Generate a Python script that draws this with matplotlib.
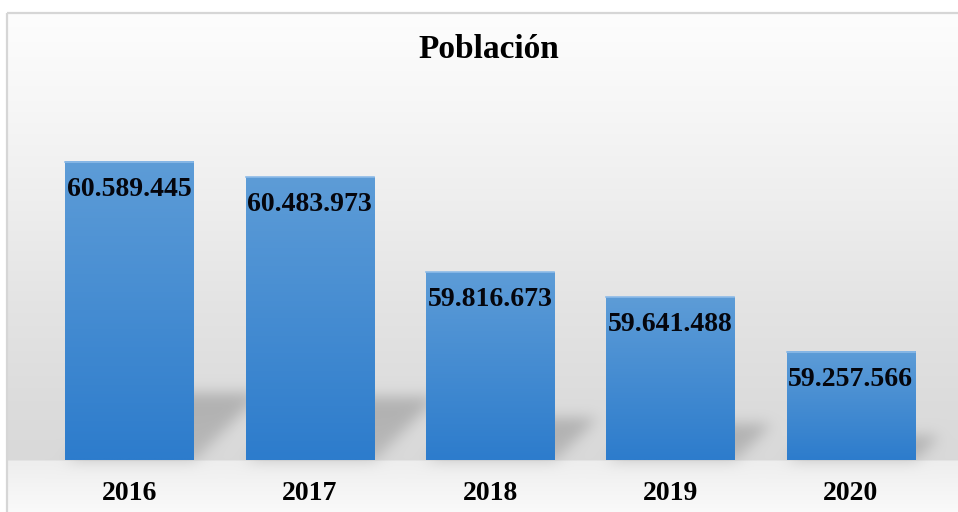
import numpy as np
import matplotlib
matplotlib.use("Agg")
import matplotlib.pyplot as plt
from matplotlib.patches import Rectangle

years = ["2016", "2017", "2018", "2019", "2020"]
poblacion = [60589445, 60483973, 59816673, 59641488, 59257566]
titulo = "Población"

W, H = 958, 512
SERIF = ["Liberation Serif", "DejaVu Serif"]


def blur(img, sigma):
    # gaussian blur with rolls, no scipy needed
    r = int(3 * sigma)
    k = np.exp(-0.5 * (np.arange(-r, r + 1) / sigma) ** 2)
    k /= k.sum()
    out = np.zeros_like(img)
    for i, w in zip(range(-r, r + 1), k):
        out += w * np.roll(img, i, axis=0)
    img = out
    out = np.zeros_like(img)
    for i, w in zip(range(-r, r + 1), k):
        out += w * np.roll(img, i, axis=1)
    return out


if __name__ == "__main__":
    fig = plt.figure(figsize=(W / 100, H / 100), dpi=100)
    fig.patch.set_facecolor("white")

    ax_bg = fig.add_axes([0, 0, 1, 1], zorder=0)
    ax_bg.set_axis_off()

    ax = fig.add_axes([39 / W, 52 / H, 902 / W, 356.6 / H], zorder=1)
    ax.patch.set_alpha(0)
    x = np.arange(len(years))
    bars = ax.bar(x, np.array(poblacion) - 58.5e6, bottom=58.5e6, width=0.71,
                  color="none", edgecolor="none")
    ax.set_xlim(-0.5, len(years) - 0.5)
    ax.set_ylim(58.5e6, 61.0e6)

    # background: gradient inside the chart frame + perspective shadows
    yy, xx = np.mgrid[0:H, 0:W].astype(float)
    base_px = H - ax.transData.transform((0, 58.5e6))[1]
    bg = np.interp(yy, [12, 100, 200, 300, 400, base_px - 1, base_px + 1, H],
                   [253, 247, 238, 228, 220, 217, 238, 250])
    mask = np.zeros((H, W))
    for b in bars:
        (x0, y0), (x1, y1) = ax.transData.transform(
            [(b.get_x(), b.get_y()), (b.get_x() + b.get_width(), b.get_y() + b.get_height())])
        yb, yt = H - y0, H - y1
        k = 0.225 * (yb - yt)
        s = yb - yy
        inside = (s >= 0) & (s <= k) & (xx - s >= x0) & (xx - s <= x1)
        # a bit darker towards the far edge of the shadow
        mask[inside] = 0.75 + 0.25 * (s[inside] / k)
    mask = blur(mask, 7)
    bg = bg * (1 - 0.2 * mask)
    bg[:12, :] = 255
    bg[:, :6] = 255
    rgb = np.dstack([bg, bg, bg]) / 255.0
    ax_bg.imshow(rgb, extent=[0, W, H, 0], aspect="auto", interpolation="bilinear")
    ax_bg.set_xlim(0, W)
    ax_bg.set_ylim(H, 0)
    ax_bg.add_patch(Rectangle((7.5, 13), W + 20, H + 20, fill=False,
                              edgecolor="#d6d6d6", lw=1.6))

    # bars with vertical blue gradient
    top_c = np.array([93, 156, 215]) / 255
    bot_c = np.array([45, 124, 204]) / 255
    t = np.linspace(0, 1, 100)[:, None, None]
    grad = top_c * (1 - t) + bot_c * t
    for b in bars:
        ax.imshow(grad, extent=[b.get_x(), b.get_x() + b.get_width(),
                                b.get_y(), b.get_y() + b.get_height()],
                  aspect="auto", origin="upper", zorder=2)
        ax.plot([b.get_x(), b.get_x() + b.get_width()],
                [b.get_y() + b.get_height()] * 2, color="#8dbbe8", lw=1.2, zorder=3)
    ax.set_xlim(-0.5, len(years) - 0.5)
    ax.set_ylim(58.5e6, 61.0e6)

    for xi, v in zip(x, poblacion):
        ax.annotate(f"{v:,}".replace(",", "."), (xi, v), xytext=(0, -19.5),
                    textcoords="offset points", ha="center", va="center",
                    fontsize=20, fontweight="bold", family=SERIF, color="#05060d", zorder=4)

    ax.set_xticks(x)
    ax.set_xticklabels(years, fontsize=20, fontweight="bold", family=SERIF)
    ax.tick_params(axis="x", length=0, pad=15)
    ax.set_yticks([])
    for sp in ax.spines.values():
        sp.set_visible(False)

    fig.text(489 / W, 1 - 49 / H, titulo, ha="center", va="center",
             fontsize=24, fontweight="bold", family=SERIF)

    fig.savefig("out.png", dpi=100)
